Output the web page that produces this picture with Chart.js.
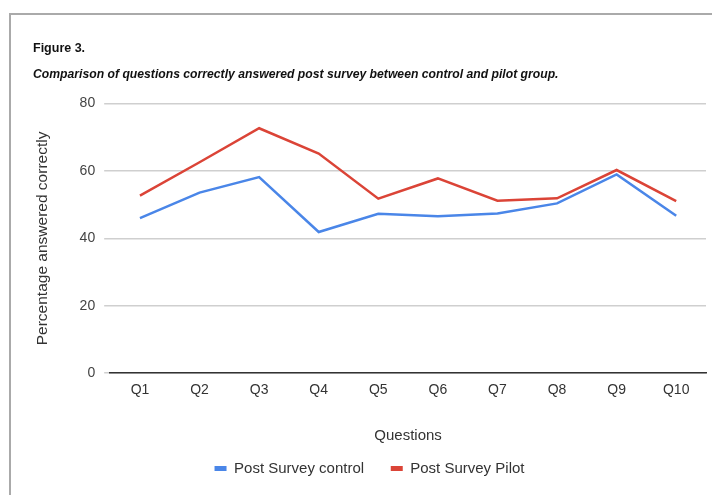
<!DOCTYPE html>
<html lang="en">
<head>
  <meta charset="UTF-8" />
  <title>Figure 3</title>
  <script src="https://cdn.jsdelivr.net/npm/chart.js"></script>
  <style>
    body {
      margin: 0;
      background: #fff;
      font-family: "Liberation Sans", Arial, sans-serif;
    }
    #frame {
      position: absolute;
      left: 9px;
      top: 13px;
      width: 703px;
      height: 482px;
      border-left: 2px solid #aaa;
      border-top: 2px solid #aaa;
    }
    #wrap {
      position: absolute;
      left: 0;
      top: 0;
      width: 712px;
      height: 495px;
    }
  </style>
</head>
<body>
  <div id="frame"></div>
  <div id="wrap"><canvas id="chart"></canvas></div>

  <script>
    const questions = ['Q1', 'Q2', 'Q3', 'Q4', 'Q5', 'Q6', 'Q7', 'Q8', 'Q9', 'Q10'];
    const controlValues = [46.0, 53.6, 58.2, 41.9, 47.3, 46.6, 47.4, 50.4, 59.0, 46.7];
    const pilotValues = [52.7, 62.6, 72.7, 65.2, 51.8, 57.8, 51.2, 51.9, 60.3, 51.1];
    const yTicks = [0, 20, 40, 60, 80];

    const font = '"Liberation Sans", Arial, sans-serif';

    new Chart(document.getElementById('chart'), {
      type: 'line',
      data: {
        labels: questions,
        datasets: [
          {
            label: 'Post Survey control',
            data: controlValues,
            borderColor: '#4a86e8',
            backgroundColor: '#4a86e8',
            borderWidth: 2.5,
            pointRadius: 0,
            tension: 0
          },
          {
            label: 'Post Survey Pilot',
            data: pilotValues,
            borderColor: '#db4437',
            backgroundColor: '#db4437',
            borderWidth: 2.5,
            pointRadius: 0,
            tension: 0
          }
        ]
      },
      options: {
        responsive: true,
        maintainAspectRatio: false,
        animation: false,
        layout: { padding: { left: 33, right: 6, top: 0, bottom: 9 } },
        plugins: {
          title: {
            display: true,
            text: 'Figure 3.',
            align: 'start',
            color: '#111',
            font: { family: font, size: 12.5, weight: 'bold' },
            padding: { top: 41, bottom: 5 }
          },
          subtitle: {
            display: true,
            text: 'Comparison of questions correctly answered post survey between control and pilot group.',
            align: 'start',
            color: '#111',
            font: { family: font, size: 12.2, weight: 'bold', style: 'italic' },
            padding: { top: 6, bottom: 22 }
          },
          legend: {
            position: 'bottom',
            labels: {
              boxWidth: 12,
              boxHeight: 5,
              color: '#333',
              font: { family: font, size: 15 },
              padding: 10,
              // wider gap after the first entry, like the original
              generateLabels: chart => Chart.defaults.plugins.legend.labels.generateLabels(chart)
                .map((item, i) => Object.assign(item, {
                  lineWidth: 0,
                  text: i === 0 ? item.text + '    ' : item.text
                }))
            }
          },
          tooltip: { enabled: false }
        },
        scales: {
          x: {
            offset: true,
            grid: { display: false, drawTicks: false },
            border: { display: true, color: '#333', width: 1.5 },
            ticks: { color: '#333', font: { family: font, size: 14 }, padding: 9 },
            title: {
              display: true,
              text: 'Questions',
              color: '#333',
              font: { family: font, size: 15 },
              padding: { top: 19, bottom: 6 }
            }
          },
          y: {
            min: 0,
            max: 80,
            afterBuildTicks: axis => { axis.ticks = yTicks.map(v => ({ value: v })); },
            grid: { color: '#cfcfcf', lineWidth: 1.5, drawTicks: true, tickLength: 6 },
            border: { display: false },
            ticks: { color: '#444', font: { family: font, size: 14 }, padding: 9 },
            title: {
              display: true,
              text: 'Percentage answered correctly',
              color: '#333',
              font: { family: font, size: 15.5 },
              padding: { top: 0, bottom: 19 }
            }
          }
        }
      }
    });
  </script>
</body>
</html>
